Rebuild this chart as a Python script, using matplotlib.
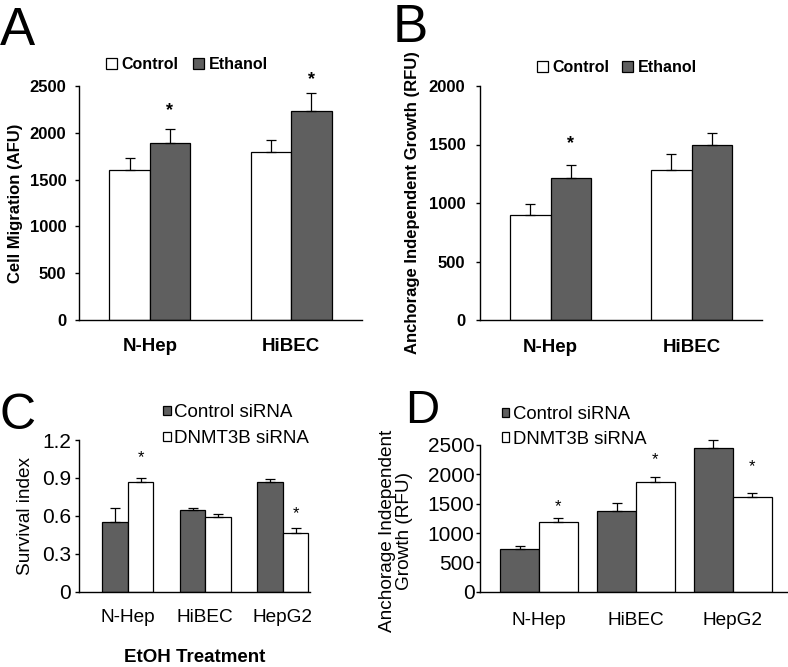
import numpy as np
import matplotlib
matplotlib.use('Agg')
import matplotlib.pyplot as plt

plt.rcParams['font.family'] = ['Liberation Sans', 'DejaVu Sans']

# ---- data ----
# A: cell migration
a_cats = ['N-Hep', 'HiBEC']
a_control = [1600, 1795]
a_control_err = [135, 125]
a_ethanol = [1890, 2230]
a_ethanol_err = [155, 195]
a_ethanol_star = [2265, 2596]

# B: anchorage independent growth
b_cats = ['N-Hep', 'HiBEC']
b_control = [897, 1280]
b_control_err = [92, 137]
b_ethanol = [1216, 1493]
b_ethanol_err = [112, 103]
b_ethanol_star = [1538, None]

# C: survival index
c_cats = ['N-Hep', 'HiBEC', 'HepG2']
c_ctrl = [0.554, 0.644, 0.868]
c_ctrl_err = [0.11, 0.02, 0.023]
c_dnmt = [0.868, 0.588, 0.462]
c_dnmt_err = [0.029, 0.029, 0.044]
c_dnmt_star = [1.081, None, 0.641]

# D: anchorage independent growth after siRNA
d_cats = ['N-Hep', 'HiBEC', 'HepG2']
d_ctrl = [727, 1375, 2443]
d_ctrl_err = [57, 142, 148]
d_dnmt = [1187, 1863, 1619]
d_dnmt_err = [68, 85, 63]
d_dnmt_star = [1494, 2295, 2181]

W, H = 788, 667
DARK = '#5f5f5f'


def box(l, t, r, b):
    # pixel box -> figure fraction
    return [l / W, 1 - b / H, (r - l) / W, (b - t) / H]


def bars(ax, cats, series, width, stars, star_size, bold):
    x = np.arange(len(cats))
    handles = []
    n = len(series)
    for i, (vals, errs, color, label) in enumerate(series):
        off = (i - (n - 1) / 2) * width
        h = ax.bar(x + off, vals, width, color=color, edgecolor='black', linewidth=0.9,
                   yerr=[np.zeros(len(cats)), errs], label=label,
                   error_kw=dict(ecolor='black', elinewidth=0.9, capsize=3.5, capthick=0.9))
        # let error bars poke above the top of the axis
        for part in h.errorbar.lines:
            if part is None:
                continue
            for art in (part if isinstance(part, tuple) else [part]):
                art.set_clip_on(False)
        handles.append(h)
        if stars[i] is not None:
            for j, y in enumerate(stars[i]):
                if y is not None:
                    ax.annotate('*', (x[j] + off, y), xytext=(0, -2.2), textcoords='offset points',
                                ha='center', va='center', fontsize=star_size, annotation_clip=False,
                                fontweight='bold' if bold else 'normal')
    ax.set_xticks(x)
    ax.set_xticklabels(cats)
    for s in ['top', 'right']:
        ax.spines[s].set_visible(False)
    for s in ['left', 'bottom']:
        ax.spines[s].set_linewidth(1.0)
    ax.tick_params(axis='x', length=0)
    ax.tick_params(axis='y', direction='out', length=3, width=1.0)
    return handles


fig = plt.figure(figsize=(W / 100, H / 100), dpi=100)

leg_kw = dict(bbox_transform=fig.transFigure, frameon=False, borderpad=0, borderaxespad=0)

# ---- A ----
axA = fig.add_axes(box(79, 86, 362, 320))
hA = bars(axA, a_cats,
          [(a_control, a_control_err, 'white', 'Control'),
           (a_ethanol, a_ethanol_err, DARK, 'Ethanol')],
          0.285, [None, a_ethanol_star], 13, True)
axA.set_xlim(-0.5, 1.5)
axA.set_ylim(0, 2500)
axA.set_yticks(np.arange(0, 2501, 500))
axA.tick_params(axis='y', labelsize=12, pad=6)
axA.tick_params(axis='x', labelsize=13.5, pad=13)
for t in axA.get_xticklabels() + axA.get_yticklabels():
    t.set_fontweight('bold')
axA.set_ylabel('Cell Migration (AFU)', fontsize=12, fontweight='bold', labelpad=5)
axA.legend(handles=hA, loc='center left', bbox_to_anchor=(106 / W, 1 - 64.5 / H), ncol=2,
           handlelength=0.68, handleheight=0.68, handletextpad=0.3, columnspacing=0.9,
           prop=dict(size=11.5, weight='bold'), **leg_kw)

# ---- B ----
axB = fig.add_axes(box(480, 86, 762, 320))
hB = bars(axB, b_cats,
          [(b_control, b_control_err, 'white', 'Control'),
           (b_ethanol, b_ethanol_err, DARK, 'Ethanol')],
          0.285, [None, b_ethanol_star], 13, True)
axB.set_xlim(-0.5, 1.5)
axB.set_ylim(0, 2000)
axB.set_yticks(np.arange(0, 2001, 500))
axB.tick_params(axis='y', labelsize=12, pad=7.5)
axB.tick_params(axis='x', labelsize=13.5, pad=14)
for t in axB.get_xticklabels() + axB.get_yticklabels():
    t.set_fontweight('bold')
axB.set_ylabel('Anchorage Independent Growth (RFU)', fontsize=12, fontweight='bold', labelpad=6)
axB.legend(handles=hB, loc='center left', bbox_to_anchor=(537 / W, 1 - 67.7 / H), ncol=2,
           handlelength=0.68, handleheight=0.68, handletextpad=0.3, columnspacing=0.8,
           prop=dict(size=11.5, weight='bold'), **leg_kw)

# ---- C ----
axC = fig.add_axes(box(79, 440, 310, 591.7))
hC = bars(axC, c_cats,
          [(c_ctrl, c_ctrl_err, DARK, 'Control siRNA'),
           (c_dnmt, c_dnmt_err, 'white', 'DNMT3B siRNA')],
          0.33, [None, c_dnmt_star], 12, False)
axC.set_xlim(-0.63, 2.35)
axC.set_ylim(0, 1.2)
axC.set_yticks([0, 0.3, 0.6, 0.9, 1.2])
axC.set_yticklabels(['0', '0.3', '0.6', '0.9', '1.2'])
axC.tick_params(axis='y', labelsize=15, pad=2.5)
axC.tick_params(axis='x', labelsize=13.7, pad=12.7)
axC.set_ylabel('Survival index', fontsize=13.7, labelpad=6)
axC.set_xlabel('EtOH Treatment', fontsize=13.5, fontweight='bold', labelpad=16)
axC.legend(handles=hC, loc='upper left', bbox_to_anchor=(163 / W, 1 - 404 / H),
           handlelength=0.4, handleheight=0.4, handletextpad=0.2, labelspacing=0.5,
           prop=dict(size=13.5), **leg_kw)

# ---- D ----
axD = fig.add_axes(box(480, 445, 788, 591.7))
hD = bars(axD, d_cats,
          [(d_ctrl, d_ctrl_err, DARK, 'Control siRNA'),
           (d_dnmt, d_dnmt_err, 'white', 'DNMT3B siRNA')],
          0.40, [None, d_dnmt_star], 12, False)
axD.set_xlim(-0.61, 2.57)
axD.set_ylim(0, 2500)
axD.set_yticks(np.arange(0, 2501, 500))
axD.tick_params(axis='y', labelsize=15, pad=1)
axD.tick_params(axis='x', labelsize=13.7, pad=14.8)
axD.legend(handles=hD, loc='upper left', bbox_to_anchor=(502 / W, 1 - 406 / H),
           handlelength=0.4, handleheight=0.4, handletextpad=0.2, labelspacing=0.42,
           prop=dict(size=13.3), **leg_kw)
fig.text(396 / W, 1 - 531 / H, 'Anchorage Independent\nGrowth (RFU)', rotation=90,
         ha='center', va='center', fontsize=13.7, linespacing=1.0)

# ---- panel letters ----
fig.text(0 / W, 1 - 45 / H, 'A', fontsize=38, va='baseline', ha='left')
fig.text(393 / W, 1 - 42 / H, 'B', fontsize=38, va='baseline', ha='left')
fig.text(0 / W, 1 - 429 / H, 'C', fontsize=36, va='baseline', ha='left')
fig.text(405 / W, 1 - 423 / H, 'D', fontsize=34, va='baseline', ha='left')

fig.savefig('out.png', dpi=100)
